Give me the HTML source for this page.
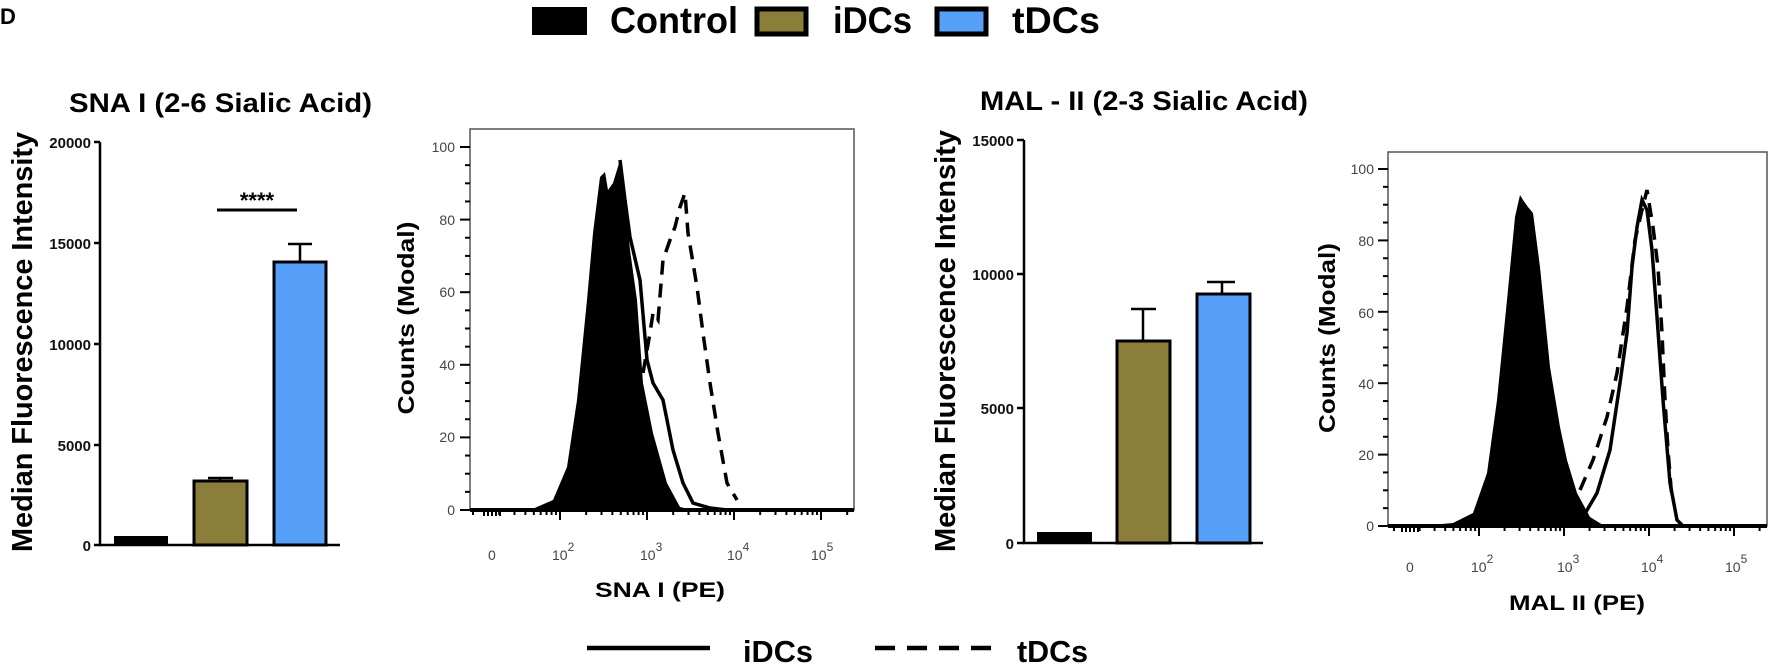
<!DOCTYPE html>
<html><head><meta charset="utf-8"><style>
html,body{margin:0;padding:0;background:#fff;}
svg{display:block;font-family:"Liberation Sans",Arial,sans-serif;}
</style></head><body>
<svg id="s" width="1772" height="667" viewBox="0 0 1772 667" xmlns="http://www.w3.org/2000/svg">
<rect width="1772" height="667" fill="#fff"/>
<text x="0" y="24" font-size="22" font-weight="bold">D</text>
<!-- top legend -->
<rect x="532" y="7" width="55" height="28" fill="#000"/>
<text x="610" y="33" font-size="37" font-weight="bold" textLength="128" lengthAdjust="spacingAndGlyphs">Control</text>
<rect x="757" y="9" width="49" height="25" fill="#8B7D3A" stroke="#000" stroke-width="5"/>
<text x="833" y="33" font-size="37" font-weight="bold" textLength="79" lengthAdjust="spacingAndGlyphs">iDCs</text>
<rect x="937" y="9" width="49" height="25" fill="#56A0FA" stroke="#000" stroke-width="5"/>
<text x="1012" y="33" font-size="37" font-weight="bold" textLength="88" lengthAdjust="spacingAndGlyphs">tDCs</text>

<!-- Panel 1 -->
<text x="69" y="112" font-size="27" font-weight="bold" textLength="303" lengthAdjust="spacingAndGlyphs">SNA I (2-6 Sialic Acid)</text>
<text transform="translate(32,342) rotate(-90)" text-anchor="middle" font-size="29" font-weight="bold" textLength="420" lengthAdjust="spacingAndGlyphs">Median Fluorescence Intensity</text>
<g stroke="#000" stroke-width="2.5">
<line x1="100" y1="142" x2="100" y2="546"/>
<line x1="99" y1="545" x2="340" y2="545"/>
<line x1="94" y1="142" x2="100" y2="142"/><line x1="94" y1="243" x2="100" y2="243"/><line x1="94" y1="344" x2="100" y2="344"/><line x1="94" y1="445" x2="100" y2="445"/><line x1="94" y1="545" x2="100" y2="545"/>
</g>
<g font-size="15" font-weight="bold" text-anchor="end" fill="#111">
<text x="91" y="148">20000</text><text x="91" y="249">15000</text><text x="91" y="350">10000</text><text x="91" y="451">5000</text><text x="91" y="551">0</text>
</g>
<rect x="114" y="536" width="54" height="9" fill="#000"/>
<g stroke="#000" stroke-width="2.5">
<line x1="220" y1="481" x2="220" y2="478"/><line x1="208" y1="478" x2="233" y2="478"/>
<line x1="300" y1="262" x2="300" y2="244"/><line x1="288" y1="244" x2="312" y2="244"/>
</g>
<rect x="194" y="481" width="53" height="64" fill="#8B7D3A" stroke="#000" stroke-width="3"/>
<rect x="274" y="262" width="52" height="283" fill="#56A0FA" stroke="#000" stroke-width="3"/>
<line x1="217" y1="210" x2="297" y2="210" stroke="#000" stroke-width="3"/>
<text x="257" y="208" text-anchor="middle" font-size="22" font-weight="bold">****</text>

<!-- Panel 2 -->
<rect x="470" y="129" width="384" height="381" fill="none" stroke="#555" stroke-width="1.5"/>
<g id="p2t" stroke="#000" stroke-width="2"></g>
<g font-size="14" fill="#444" text-anchor="end">
<text x="455" y="515">0</text><text x="455" y="442">20</text><text x="455" y="370">40</text><text x="455" y="297">60</text><text x="455" y="225">80</text><text x="455" y="152">100</text>
</g>
<g font-size="14" fill="#444">
<text x="488" y="560">0</text>
<text x="552" y="560">10<tspan dy="-9" font-size="12">2</tspan></text>
<text x="640" y="560">10<tspan dy="-9" font-size="12">3</tspan></text>
<text x="727" y="560">10<tspan dy="-9" font-size="12">4</tspan></text>
<text x="811" y="560">10<tspan dy="-9" font-size="12">5</tspan></text>
</g>
<text transform="translate(414,318) rotate(-90)" text-anchor="middle" font-size="23" font-weight="bold" textLength="193" lengthAdjust="spacingAndGlyphs">Counts (Modal)</text>
<text x="660" y="597" text-anchor="middle" font-size="21" font-weight="bold" textLength="130" lengthAdjust="spacingAndGlyphs">SNA I (PE)</text>
<polygon fill="#000" points="470,510 530,510 553,500 567,467 577,400 587,300 593,233 600,177 605,172 608,190 613,183 620,160 625,200 630,250 637,300 643,383 653,433 667,483 680,507 693,510"/>
<polyline fill="none" stroke="#000" stroke-width="3.5" points="620,160 625,200 630,237 640,280 647,360 653,383 663,400 673,450 683,483 693,503 710,508 727,510"/>
<polyline fill="none" stroke="#000" stroke-width="3.5" stroke-dasharray="14,9" points="643,373 650,333 653,313 658,320 663,260 670,240 675,227 680,207 685,193 688,233 697,287 703,333 710,383 718,433 727,483 737,500"/>
<line x1="470" y1="510" x2="854" y2="510" stroke="#000" stroke-width="4"/>

<!-- Panel 3 -->
<text x="980" y="110" font-size="27" font-weight="bold" textLength="328" lengthAdjust="spacingAndGlyphs">MAL - II (2-3 Sialic Acid)</text>
<text transform="translate(955,341) rotate(-90)" text-anchor="middle" font-size="29" font-weight="bold" textLength="422" lengthAdjust="spacingAndGlyphs">Median Fluorescence Intensity</text>
<g stroke="#000" stroke-width="2.5">
<line x1="1024" y1="140" x2="1024" y2="544"/>
<line x1="1023" y1="543" x2="1263" y2="543"/>
<line x1="1017" y1="140" x2="1024" y2="140"/><line x1="1017" y1="274" x2="1024" y2="274"/><line x1="1017" y1="408" x2="1024" y2="408"/><line x1="1017" y1="543" x2="1024" y2="543"/>
</g>
<g font-size="15" font-weight="bold" text-anchor="end" fill="#111">
<text x="1014" y="146">15000</text><text x="1014" y="280">10000</text><text x="1014" y="414">5000</text><text x="1014" y="549">0</text>
</g>
<rect x="1037" y="532" width="55" height="11" fill="#000"/>
<g stroke="#000" stroke-width="2.5">
<line x1="1143" y1="341" x2="1143" y2="309"/><line x1="1131" y1="309" x2="1156" y2="309"/>
<line x1="1222" y1="294" x2="1222" y2="282"/><line x1="1207" y1="282" x2="1235" y2="282"/>
</g>
<rect x="1117" y="341" width="53" height="202" fill="#8B7D3A" stroke="#000" stroke-width="3"/>
<rect x="1197" y="294" width="53" height="249" fill="#56A0FA" stroke="#000" stroke-width="3"/>

<!-- Panel 4 -->
<rect x="1388" y="152" width="379" height="374" fill="none" stroke="#555" stroke-width="1.5"/>
<g id="p4t" stroke="#000" stroke-width="2"></g>
<g font-size="14" fill="#444" text-anchor="end">
<text x="1374" y="531">0</text><text x="1374" y="460">20</text><text x="1374" y="389">40</text><text x="1374" y="318">60</text><text x="1374" y="246">80</text><text x="1374" y="174">100</text>
</g>
<g font-size="14" fill="#444">
<text x="1406" y="572">0</text>
<text x="1471" y="572">10<tspan dy="-9" font-size="12">2</tspan></text>
<text x="1557" y="572">10<tspan dy="-9" font-size="12">3</tspan></text>
<text x="1641" y="572">10<tspan dy="-9" font-size="12">4</tspan></text>
<text x="1725" y="572">10<tspan dy="-9" font-size="12">5</tspan></text>
</g>
<text transform="translate(1335,338) rotate(-90)" text-anchor="middle" font-size="23" font-weight="bold" textLength="190" lengthAdjust="spacingAndGlyphs">Counts (Modal)</text>
<text x="1577" y="610" text-anchor="middle" font-size="21" font-weight="bold" textLength="136" lengthAdjust="spacingAndGlyphs">MAL II (PE)</text>
<polygon fill="#000" points="1388,526 1420,526 1453,523 1473,513 1487,473 1497,400 1507,300 1515,217 1520,195 1523,200 1528,207 1533,213 1540,267 1550,367 1560,427 1567,460 1577,493 1590,517 1603,525"/>
<polyline fill="none" stroke="#000" stroke-width="3.5" points="1583,517 1597,493 1610,450 1620,383 1627,333 1632,267 1637,227 1642,200 1647,210 1652,250 1657,317 1663,400 1670,483 1677,520 1683,526"/>
<polyline fill="none" stroke="#000" stroke-width="3.5" stroke-dasharray="14,9" points="1580,490 1593,460 1607,417 1617,373 1627,307 1635,240 1642,210 1647,190 1653,227 1658,267 1662,333 1665,400 1668,450 1672,500"/>
<line x1="1388" y1="526" x2="1767" y2="526" stroke="#000" stroke-width="4"/>

<!-- bottom legend -->
<line x1="587" y1="648" x2="710" y2="648" stroke="#000" stroke-width="4.5"/>
<text x="743" y="662" font-size="31" font-weight="bold" textLength="70" lengthAdjust="spacingAndGlyphs">iDCs</text>
<line x1="875" y1="648" x2="992" y2="648" stroke="#000" stroke-width="4.5" stroke-dasharray="20,12"/>
<text x="1017" y="662" font-size="31" font-weight="bold" textLength="71" lengthAdjust="spacingAndGlyphs">tDCs</text>
</svg>
<script>
function ticks(id,x0,base,yTop,zero,dec,d0,x2,yscale){
 var g=document.getElementById(id),s='';
 for(var v=0;v<=105;v+=5){var y=base-v*yscale;if(y<yTop)break;var L=(v%20==0)?10:5;s+='<line x1="'+(x0-L)+'" y1="'+y+'" x2="'+x0+'" y2="'+y+'"/>';}
 for(var d=2;d<=5;d++){for(var m=1;m<=9;m++){var x=d0+dec*(d-2+Math.log10(m));if(x>x2)break;var L=m==1?10:5;s+='<line x1="'+x+'" y1="'+base+'" x2="'+x+'" y2="'+(base+L)+'"/>';}}
 for(var m=1;m<10;m++){var x=d0-dec*(1-Math.log10(m));if(x>x0&&x<d0){s+='<line x1="'+x+'" y1="'+base+'" x2="'+x+'" y2="'+(base+5)+'"/>';}}
 [zero-8,zero-4,zero,zero+4,zero+8].forEach(function(x){s+='<line x1="'+x+'" y1="'+base+'" x2="'+x+'" y2="'+(base+6)+'"/>';});
 g.innerHTML=s;
}
ticks('p2t',470,510,129,492,87,560,854,3.63);
ticks('p4t',1388,526,152,1410,85,1479,1767,3.57);
</script>
</body></html>
